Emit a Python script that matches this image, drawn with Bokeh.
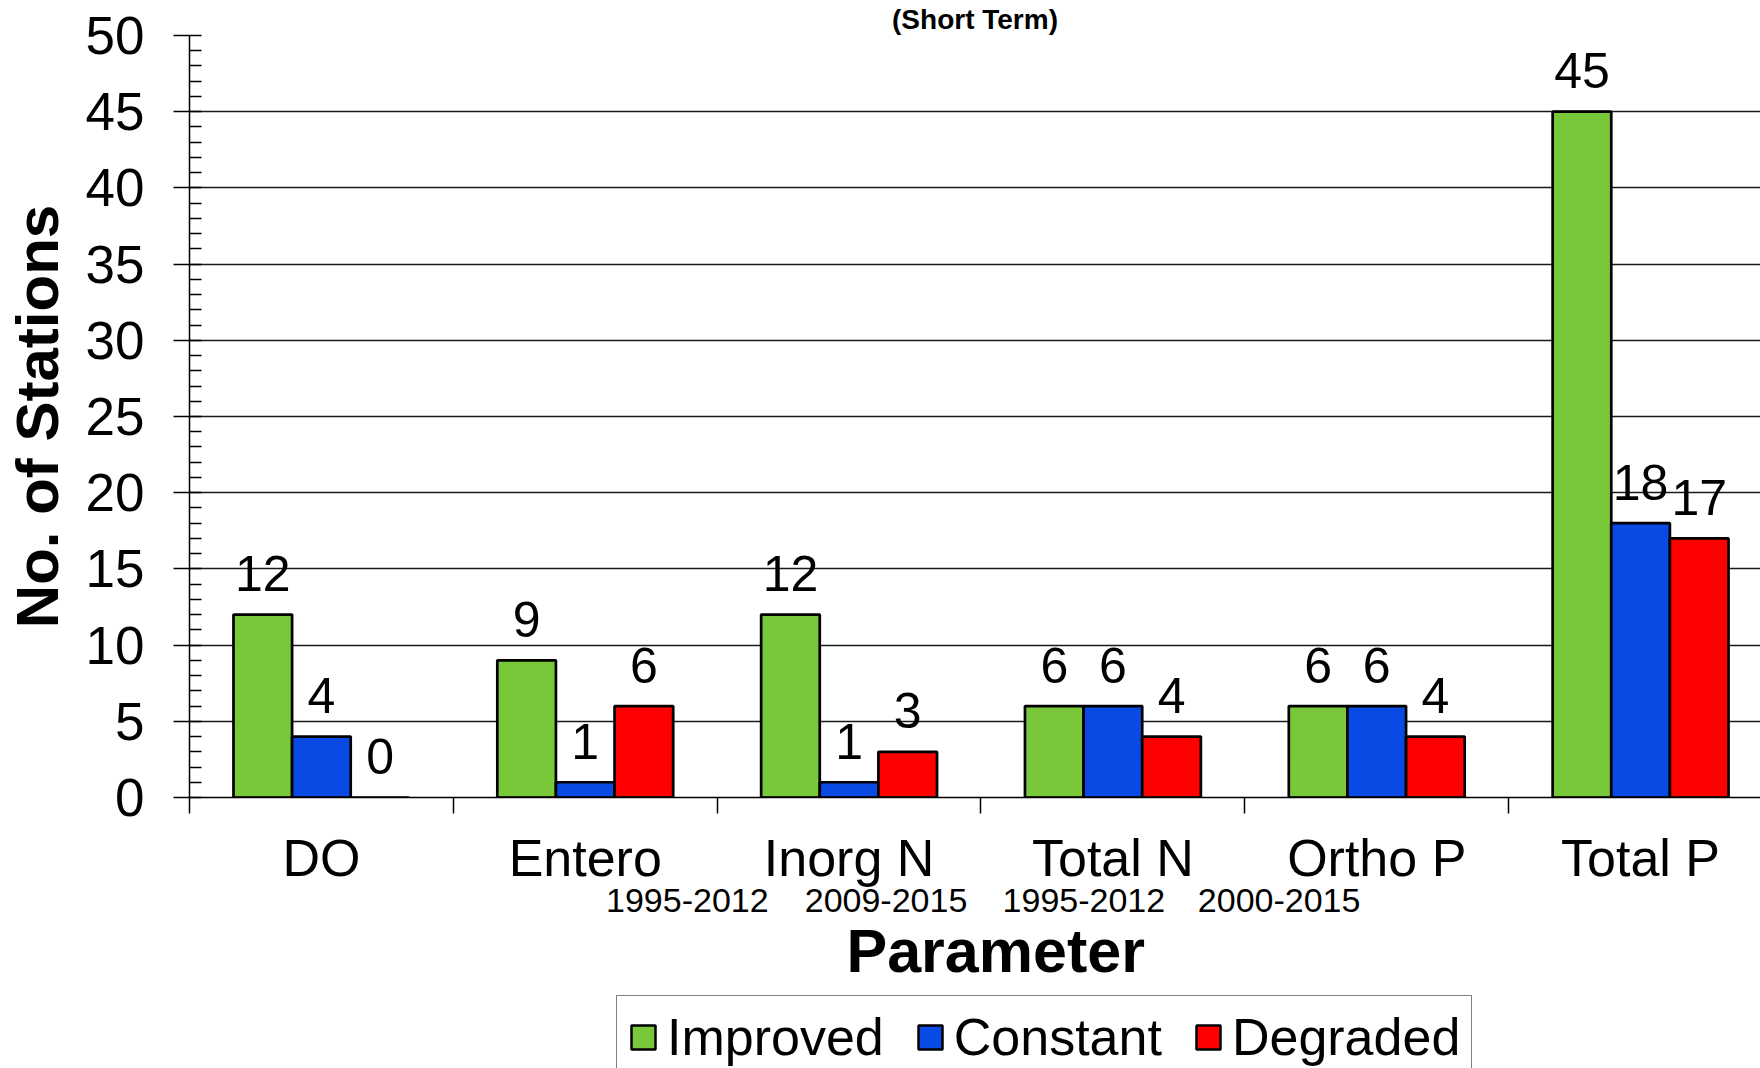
from bokeh.plotting import figure
from bokeh.layouts import column
from bokeh.models import (Range1d, FixedTicker, SingleIntervalTicker, Title, LinearAxis,
                          Legend, LegendItem, ColumnDataSource)
from bokeh.core.properties import value
from bokeh.embed import file_html
from bokeh.resources import INLINE

# ---- data ----
categories = ["DO", "Entero", "Inorg N", "Total N", "Ortho P", "Total P"]
improved = [12, 9, 12, 6, 6, 45]
constant = [4, 1, 1, 6, 6, 18]
degraded = [0, 6, 3, 4, 4, 17]
series_names = ["Improved", "Constant", "Degraded"]
date_labels = ["1995-2012", "2009-2015", "1995-2012", "2000-2015"]
date_categories = ["Entero", "Inorg N", "Total N", "Ortho P"]
title_text = "(Short Term)"
x_title = "Parameter"
y_title = "No. of Stations"

# ---- style / layout ----
FONT = "Liberation Sans"
colors = ["#79C83A", "#0A4AE4", "#FF0000"]
bar_w = 2 / 9
offsets = [-bar_w, 0, bar_w]
date_shift = [0.387, 0.14, -0.11, -0.37]

W = 1760
TOP_H = 992
BOT_H = 1068 - TOP_H
LEFT = 188

x_range = Range1d(0, (W - LEFT) / 264.0)

p = figure(width=W, height=TOP_H, output_backend="svg", toolbar_location=None,
           x_range=x_range, y_range=Range1d(0, 50),
           min_border_left=LEFT, min_border_right=0, min_border_top=35,
           min_border_bottom=TOP_H - 797, background_fill_color="white",
           border_fill_color="white")
p.outline_line_color = None

sources = []
for vals, off in zip([improved, constant, degraded], offsets):
    src = ColumnDataSource(dict(
        x=[i + 0.5 + off for i in range(len(categories))],
        top=vals,
        label=[str(v) for v in vals]))
    sources.append(src)

for src, color in zip(sources, colors):
    p.vbar(x="x", top="top", width=bar_w, source=src, fill_color=color,
           line_color="black", line_width=2.7)
    p.text(x="x", y="top", text="label", source=src, text_align="center",
           text_baseline="alphabetic", y_offset=-41,
           text_font=value(FONT), text_font_size="50px", text_color="black")

# category axis
xa = p.xaxis[0]
xa.ticker = FixedTicker(ticks=[i + 0.5 for i in range(len(categories))],
                        minor_ticks=list(range(len(categories) + 1)))
xa.major_label_overrides = {i + 0.5: c for i, c in enumerate(categories)}
xa.major_tick_out = 0
xa.major_tick_in = 0
xa.minor_tick_out = 16
xa.minor_tick_in = 0
xa.minor_tick_line_color = "black"
xa.minor_tick_line_width = 1.5
xa.major_label_standoff = 15
xa.major_label_text_font = FONT
xa.major_label_text_font_size = "52px"
xa.major_label_text_color = "black"
xa.axis_line_color = "black"
xa.axis_line_width = 1.5

# period notes under the category labels (second, line-less axis)
date_pos = [categories.index(c) + 0.5 + s for c, s in zip(date_categories, date_shift)]
xd = LinearAxis(ticker=FixedTicker(ticks=date_pos, minor_ticks=[]),
                major_label_overrides={x: t for x, t in zip(date_pos, date_labels)},
                axis_line_color=None, major_tick_line_color=None,
                minor_tick_line_color=None, major_tick_out=0, major_tick_in=0,
                minor_tick_out=0, minor_tick_in=0, major_label_standoff=-1,
                major_label_text_font=FONT, major_label_text_font_size="34px",
                major_label_text_color="black")
p.add_layout(xd, "below")

# x title
p.add_layout(Title(text=x_title, align="left", offset=657, standoff=0,
                   text_font=FONT, text_font_style="bold", text_font_size="61px",
                   text_color="black"), "below")

ya = p.yaxis[0]
ya.ticker = SingleIntervalTicker(interval=5, num_minor_ticks=5)
ya.major_tick_out = 16
ya.major_tick_in = 0
ya.minor_tick_in = 12
ya.minor_tick_out = 0
ya.major_tick_line_color = "black"
ya.major_tick_line_width = 1.5
ya.minor_tick_line_color = "black"
ya.minor_tick_line_width = 1.5
ya.major_label_standoff = 29
ya.major_label_text_font = FONT
ya.major_label_text_font_size = "53px"
ya.major_label_text_color = "black"
ya.axis_line_color = "black"
ya.axis_line_width = 1.5
ya.axis_label = y_title
ya.axis_label_text_font = FONT
ya.axis_label_text_font_style = "bold"
ya.axis_label_text_font_size = "60px"
ya.axis_label_text_color = "black"
ya.axis_label_standoff = 12

p.xgrid.visible = False
p.ygrid.grid_line_color = "#1a1a1a"
p.ygrid.grid_line_width = 1.4

# chart title (top of the reference is cropped; kept small so it stays visible)
p.add_layout(Title(text=title_text, align="center", offset=-41, standoff=2,
                   text_font=FONT, text_font_style="bold", text_font_size="28px",
                   text_color="black"), "above")

# ---- lower strip: legend ----
q = figure(width=W, height=BOT_H, output_backend="svg", toolbar_location=None,
           x_range=x_range, y_range=Range1d(0, 1),
           min_border_left=LEFT, min_border_right=0, min_border_top=0,
           min_border_bottom=0, x_axis_location=None, y_axis_location=None,
           background_fill_color="white", border_fill_color="white")
q.outline_line_color = None
q.grid.visible = False

# legend swatches: hidden copies of the bar renderers
legend_items = []
for name, src, color in zip(series_names, sources, colors):
    r = q.vbar(x="x", top="top", width=bar_w, source=src, fill_color=color,
               line_color="black", line_width=2.5, visible=False)
    legend_items.append(LegendItem(label=name, renderers=[r]))

legend = Legend(items=legend_items, orientation="horizontal", location=(427, -11),
                glyph_width=30, glyph_height=30, label_standoff=9, spacing=31,
                padding=11, margin=0, label_text_font=FONT,
                label_text_font_size="52px", label_text_color="black",
                border_line_color="black", border_line_width=1.5,
                background_fill_alpha=1.0, inactive_fill_alpha=0.0,
                click_policy="none")
q.add_layout(legend, "center")

layout = column(p, q, spacing=0)
open("out.html", "w").write(file_html(layout, INLINE))
